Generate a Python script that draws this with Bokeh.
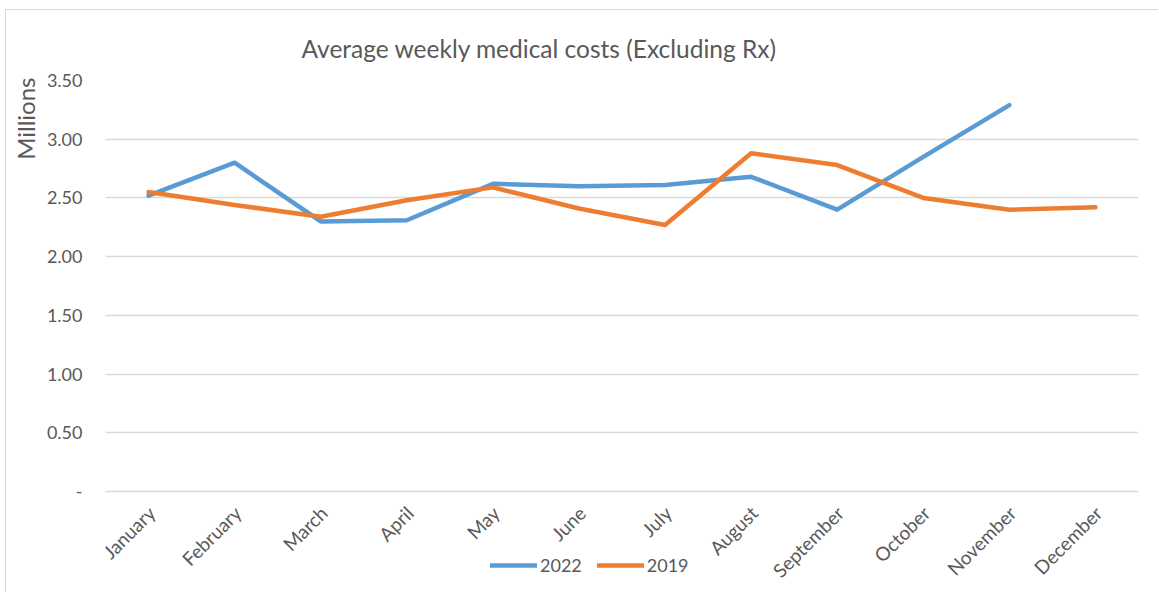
from math import pi
from bokeh.plotting import figure
from bokeh.models import (FactorRange, Range1d, FixedTicker, NumeralTickFormatter,
                          Legend, LegendItem, Title)
from bokeh.core.properties import value
from bokeh.embed import file_html
from bokeh.resources import INLINE

months = ["January", "February", "March", "April", "May", "June", "July",
          "August", "September", "October", "November", "December"]
costs_2022 = [2.52, 2.80, 2.30, 2.31, 2.62, 2.60, 2.61, 2.68, 2.40, 2.85, 3.29]
costs_2019 = [2.55, 2.44, 2.34, 2.48, 2.59, 2.41, 2.27, 2.88, 2.78, 2.50, 2.40, 2.42]
y_ticks = [0, 0.5, 1.0, 1.5, 2.0, 2.5, 3.0, 3.5]

FONT = "Lato"
TXT = "#595959"
GRID = "#D9D9D9"

# layout (pixels): plot area 411 px tall for 0..3.5, then 102 px for the month labels + legend
PLOT_H, BELOW_H = 411, 102
y_top = y_ticks[-1]
y_bottom = -y_top * BELOW_H / PLOT_H

p = figure(width=1153, height=583, x_range=FactorRange(*months),
           y_range=Range1d(y_bottom, y_top),
           output_backend="svg", toolbar_location=None, x_axis_location=None,
           min_border_left=99, min_border_right=21, min_border_top=70, min_border_bottom=0,
           styles={"margin-left": "5px", "margin-top": "9px",
                   "border-left": "1px solid #D9D9D9", "border-top": "1px solid #D9D9D9"})
p.outline_line_color = None
p.background_fill_color = "white"

p.title.text = "Average weekly medical costs (Excluding Rx)"
p.title.text_font = FONT
p.title.text_font_size = "24.5px"
p.title.text_font_style = "normal"
p.title.text_color = TXT
p.title.align = "left"
p.title.offset = 196
p.title.standoff = 35

l22 = p.line(months[:len(costs_2022)], costs_2022, line_color="#5B9BD5", line_width=4.5,
             line_join="round", line_cap="round")
l19 = p.line(months, costs_2019, line_color="#ED7D31", line_width=4.5,
             line_join="round", line_cap="round")

# category labels below the zero line
p.text(x=months, y=[0] * len(months), text=months, angle=pi / 4,
       text_align="right", text_baseline="middle", x_offset=3, y_offset=18,
       text_font=value(FONT), text_font_size="19px", text_color=TXT)

p.xgrid.grid_line_color = None
p.ygrid.grid_line_color = GRID
p.ygrid.grid_line_width = 1.5

yax = p.yaxis[0]
yax.ticker = FixedTicker(ticks=y_ticks)
yax.formatter = NumeralTickFormatter(format="0.00")
yax.major_label_overrides = {0: "-"}
yax.axis_line_color = None
yax.major_tick_line_color = None
yax.minor_tick_line_color = None
yax.major_tick_out = 0
yax.minor_tick_out = 0
yax.major_label_standoff = 23
yax.major_label_text_font = FONT
yax.major_label_text_font_size = "18px"
yax.major_label_text_color = TXT

ylab = Title(text="Millions", align="right", offset=-3, standoff=4, vertical_align="top",
             text_font=FONT, text_font_size="24px", text_font_style="normal",
             text_color=TXT)
p.add_layout(ylab, "left")

legend = Legend(items=[LegendItem(label="2022", renderers=[l22]),
                       LegendItem(label="2019", renderers=[l19])],
                location=(385, 17), orientation="horizontal",
                glyph_width=47, glyph_height=20, label_standoff=3, spacing=15,
                padding=0, margin=0, border_line_color=None, background_fill_alpha=0,
                label_text_font=FONT, label_text_font_size="18px", label_text_color=TXT)
p.add_layout(legend, "center")

open("out.html", "w").write(file_html(p, INLINE))
